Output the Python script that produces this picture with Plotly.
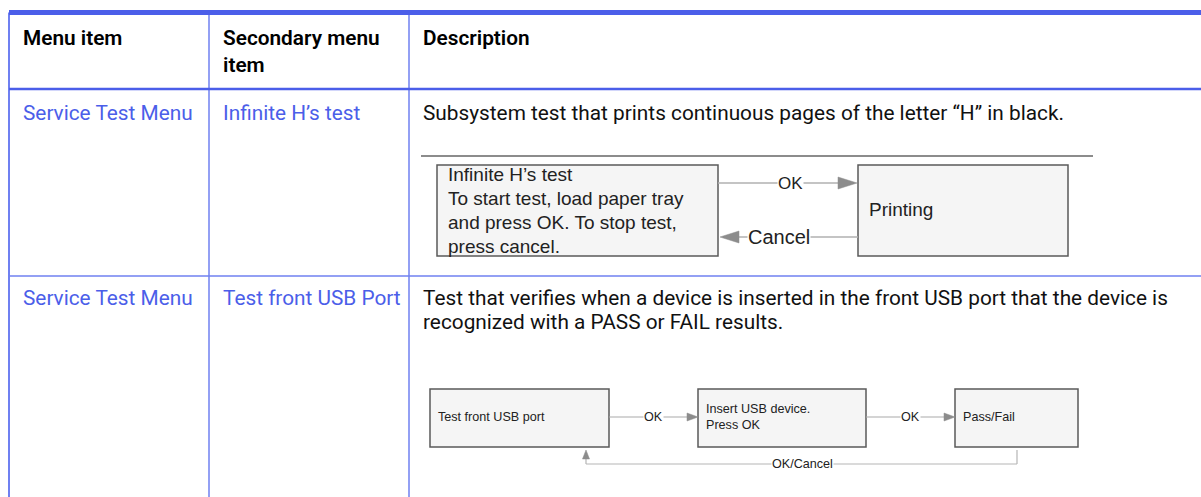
import plotly.graph_objects as go

# ---------------- data (text content) ----------------
header = ["Menu item", "Secondary menu<br>item", "Description"]
menu_items = ["Service Test Menu", "Service Test Menu"]
secondary_items = ["Infinite H’s test", "Test front USB Port"]
descriptions = [
    ["Subsystem test that prints continuous pages of the letter “H” in black."],
    ["Test that verifies when a device is inserted in the front USB port that the device is",
     "recognized with a PASS or FAIL results."],
]
diag1_boxes = [
    ["Infinite H’s test", "To start test, load paper tray", "and press OK. To stop test,", "press cancel."],
    ["Printing"],
]
diag1_links = ["OK", "Cancel"]
diag2_boxes = [["Test front USB port"], ["Insert USB device.", "Press OK"], ["Pass/Fail"]]
diag2_links = ["OK", "OK", "OK/Cancel"]

# ---------------- layout / style ----------------
W, H = 1201, 497
BLUE = "#4b5ee9"
BLUE_T = "#6f80f1"
TXT_FONT = "Roboto"
TXT_SIZE = 20.8
DIA_FONT = "Liberation Sans, Arial"
DIA1_SIZE = 19
DIA2_SIZE = 12.6
col_x = [9, 209, 409]
row_y = [12.5, 89, 276]

fig = go.Figure()
shapes = []
ann = []

def line(x0, y0, x1, y1, color, width):
    shapes.append(dict(type="line", x0=x0, y0=y0, x1=x1, y1=y1, xref="x", yref="y",
                       line=dict(color=color, width=width)))

def text(x, y, s, size, color="#111", font=TXT_FONT, bg=None, xanchor="left", weight="normal"):
    d = dict(x=x, y=y, text=s, showarrow=False, xref="x", yref="y", xanchor=xanchor,
             yanchor="middle", align="left",
             font=dict(family=font, size=size, color=color, weight=weight))
    if bg:
        d["bgcolor"] = bg
        d["borderpad"] = 0
    ann.append(d)

def box(x0, y0, x1, y1):
    shapes.append(dict(type="rect", x0=x0, y0=y0, x1=x1, y1=y1, xref="x", yref="y",
                       fillcolor="#f5f5f5", line=dict(color="#5a5a5a", width=1.5), layer="below"))

def tri(xt, yt, direction, L, Hh, color="#8c8c8c"):
    if direction == "right":
        p = f"M{xt},{yt} L{xt-L},{yt-Hh} L{xt-L},{yt+Hh} Z"
    elif direction == "left":
        p = f"M{xt},{yt} L{xt+L},{yt-Hh} L{xt+L},{yt+Hh} Z"
    else:  # up
        p = f"M{xt},{yt} L{xt-Hh},{yt+L} L{xt+Hh},{yt+L} Z"
    shapes.append(dict(type="path", path=p, xref="x", yref="y", fillcolor=color,
                       line=dict(color=color, width=0.5)))

# table grid
line(col_x[0], row_y[0], col_x[0], H, BLUE_T, 2)
line(col_x[1], row_y[0], col_x[1], H, BLUE_T, 1.5)
line(col_x[2], row_y[0], col_x[2], H, BLUE_T, 1.5)
line(col_x[0], row_y[0], W, row_y[0], BLUE, 5)
line(col_x[0], row_y[1], W, row_y[1], BLUE, 2.5)
line(col_x[0], row_y[2], W, row_y[2], BLUE_T, 1.5)

# header
text(21, 38, header[0], TXT_SIZE, "#000", weight=600)
ann.append(dict(x=221, y=51, text=header[1], showarrow=False, xref="x", yref="y",
                xanchor="left", yanchor="middle", align="left",
                font=dict(family=TXT_FONT, size=TXT_SIZE, color="#000", weight=600)))
text(421, 38, header[2], TXT_SIZE, "#000", weight=600)

# rows
row_text_y = [113, 298]
for i in range(2):
    text(21, row_text_y[i], menu_items[i], TXT_SIZE, BLUE)
    text(221, row_text_y[i], secondary_items[i], TXT_SIZE, BLUE)
    for j, s in enumerate(descriptions[i]):
        text(421, row_text_y[i] + 24 * j, s, TXT_SIZE, "#111")

# diagram 1
line(421, 156, 1093, 156, "#666666", 1.5)
b1 = [(437, 165, 718, 256), (858, 165, 1068, 256)]
for (x0, y0, x1, y1) in b1:
    box(x0, y0, x1, y1)
for j, s in enumerate(diag1_boxes[0]):
    text(446, 174 + 24.3 * j, s, DIA1_SIZE, "#222", font=DIA_FONT)
text(867, 209, diag1_boxes[1][0], DIA1_SIZE, "#222", font=DIA_FONT)
line(718, 183, 840, 183, "#b0b0b0", 1.5)
tri(857, 183, "right", 19, 6)
text(790, 183, diag1_links[0], 17, "#222", font=DIA_FONT, bg="white", xanchor="center")
line(738, 237, 858, 237, "#b0b0b0", 1.5)
tri(720, 237, "left", 19, 6)
text(779, 237, diag1_links[1], 20, "#222", font=DIA_FONT, bg="white", xanchor="center")

# diagram 2
b2 = [(430, 389, 609, 447), (698, 389, 866, 447), (955, 389, 1078, 447)]
for (x0, y0, x1, y1) in b2:
    box(x0, y0, x1, y1)
text(436, 417, diag2_boxes[0][0], DIA2_SIZE, "#222", font=DIA_FONT)
text(704, 409, diag2_boxes[1][0], DIA2_SIZE, "#222", font=DIA_FONT)
text(704, 425, diag2_boxes[1][1], DIA2_SIZE, "#222", font=DIA_FONT)
text(961, 417, diag2_boxes[2][0], DIA2_SIZE, "#222", font=DIA_FONT)
line(609, 417, 688, 417, "#aaaaaa", 1.2)
tri(698, 417, "right", 11, 4)
text(653, 417, diag2_links[0], DIA2_SIZE, "#222", font=DIA_FONT, bg="white", xanchor="center")
line(866, 417, 945, 417, "#aaaaaa", 1.2)
tri(955, 417, "right", 11, 4)
text(910, 417, diag2_links[1], DIA2_SIZE, "#222", font=DIA_FONT, bg="white", xanchor="center")
line(1017, 450, 1017, 464, "#b5b5b5", 1.2)
line(1017, 464, 586, 464, "#b5b5b5", 1.2)
line(586, 464, 586, 458, "#b5b5b5", 1.2)
tri(586, 450, "up", 9, 3.5)
text(802, 464, diag2_links[2], DIA2_SIZE, "#222", font=DIA_FONT, bg="white", xanchor="center")

fig.update_layout(
    width=W, height=H, margin=dict(l=0, r=0, t=0, b=0),
    paper_bgcolor="white", plot_bgcolor="white",
    xaxis=dict(range=[0, W], visible=False, fixedrange=True),
    yaxis=dict(range=[H, 0], visible=False, fixedrange=True),
    shapes=shapes, annotations=ann, showlegend=False,
)
fig.write_html("out.html", config={"displayModeBar": False},
               post_script="document.body.style.margin='0';document.body.style.overflow='hidden';")
